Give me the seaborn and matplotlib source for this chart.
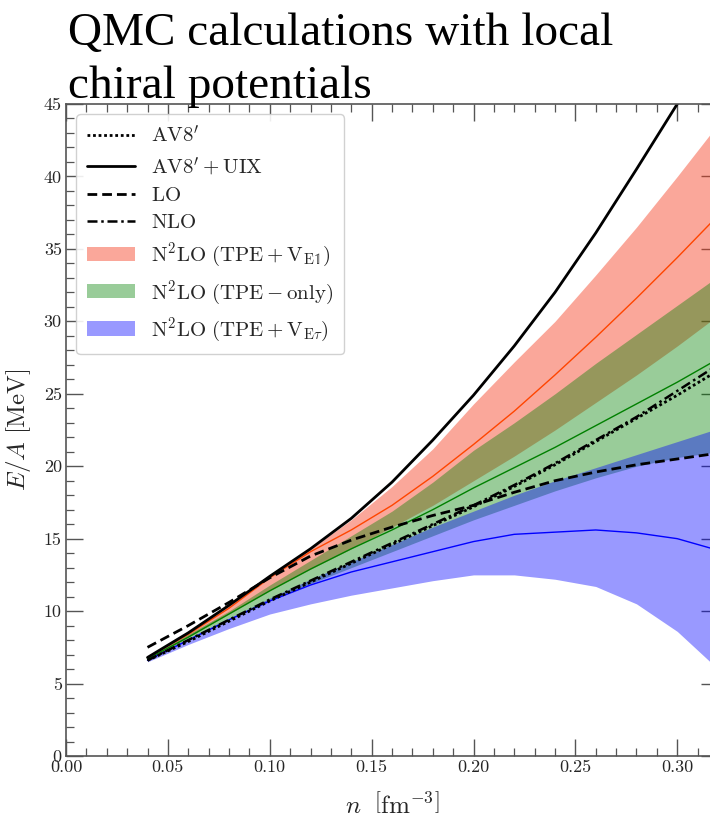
import matplotlib
matplotlib.use("Agg")
import matplotlib.pyplot as plt
from matplotlib.lines import Line2D
from matplotlib.patches import Patch
from matplotlib.ticker import MultipleLocator
import numpy as np
import pandas as pd
import seaborn as sns

# Neutron-matter energy per particle vs density
density = [0.04, 0.06, 0.08, 0.10, 0.12, 0.14, 0.16, 0.18, 0.20,
           0.22, 0.24, 0.26, 0.28, 0.30, 0.32]

av8p = [6.6, 7.9, 9.3, 10.7, 12.0, 13.3, 14.6, 15.9, 17.2,
        18.6, 20.1, 21.7, 23.3, 24.9, 26.6]
av8p_uix = [6.8, 8.5, 10.4, 12.4, 14.3, 16.4, 18.9, 21.8, 24.9,
            28.3, 32.0, 36.1, 40.5, 45.0, 49.8]
lo = [7.5, 9.0, 10.6, 12.3, 13.8, 14.9, 15.8, 16.6, 17.3,
      18.2, 19.0, 19.6, 20.1, 20.5, 20.9]
nlo = [6.6, 8.0, 9.4, 10.8, 12.1, 13.4, 14.7, 16.0, 17.3,
       18.7, 20.2, 21.8, 23.4, 25.2, 27.0]

# N2LO (TPE + V_E1): central value and band
e1_mid = [6.8, 8.4, 10.2, 12.3, 14.1, 15.6, 17.3, 19.3, 21.5,
          23.8, 26.3, 28.9, 31.6, 34.4, 37.3]
e1_hi = [6.9, 8.6, 10.5, 12.5, 14.3, 16.3, 18.6, 21.2, 24.3,
         27.2, 30.0, 33.2, 36.5, 40.0, 43.6]
e1_lo = [6.6, 8.2, 9.8, 11.4, 12.9, 14.3, 15.8, 17.3, 19.0,
         20.7, 22.5, 24.4, 26.3, 28.3, 30.4]

# N2LO (TPE-only)
tpe_mid = [6.7, 8.2, 9.8, 11.4, 12.9, 14.3, 15.6, 17.0, 18.5,
           19.9, 21.3, 22.8, 24.3, 25.8, 27.4]
tpe_hi = [6.8, 8.4, 10.0, 11.8, 13.5, 15.2, 16.9, 18.9, 21.1,
          23.0, 25.0, 27.1, 29.1, 31.1, 33.1]
tpe_lo = [6.6, 8.0, 9.4, 10.7, 11.9, 13.0, 14.1, 15.2, 16.3,
          17.3, 18.3, 19.2, 20.0, 20.6, 21.0]

# N2LO (TPE + V_Etau)
et_mid = [6.6, 8.0, 9.4, 10.7, 11.8, 12.7, 13.4, 14.1, 14.8,
          15.3, 15.45, 15.6, 15.4, 15.0, 14.2]
et_hi = [6.7, 8.1, 9.5, 10.9, 12.2, 13.4, 14.6, 15.8, 16.9,
         18.0, 19.0, 19.9, 20.8, 21.7, 22.6]
et_lo = [6.5, 7.7, 8.8, 9.8, 10.5, 11.1, 11.6, 12.1, 12.5,
         12.5, 12.2, 11.7, 10.5, 8.6, 6.0]

x_ticks = [0.00, 0.05, 0.10, 0.15, 0.20, 0.25, 0.30]
y_ticks = [0, 5, 10, 15, 20, 25, 30, 35, 40, 45]

df = pd.DataFrame({"n": density, "av8p": av8p, "av8p_uix": av8p_uix,
                   "lo": lo, "nlo": nlo, "e1": e1_mid, "tpe": tpe_mid,
                   "et": et_mid})

sns.set_style("ticks")
plt.rcParams["font.family"] = ["cmr10", "DejaVu Serif"]
plt.rcParams["mathtext.fontset"] = "cm"
plt.rcParams["axes.formatter.use_mathtext"] = True
plt.rcParams["axes.unicode_minus"] = False

fig = plt.figure(figsize=(7.10, 8.19), dpi=100)
ax = fig.add_axes([66 / 710, 63 / 819, 652 / 710, 652 / 819])

RED_FILL = (0.96, 0.24, 0.12)
GREEN = (0.0, 0.5, 0.0)
BLUE = (0.0, 0.0, 1.0)

ax.fill_between(density, e1_lo, e1_hi, color=RED_FILL, alpha=0.45, lw=0)
ax.fill_between(density, tpe_lo, tpe_hi, color=GREEN, alpha=0.4, lw=0)
ax.fill_between(density, et_lo, et_hi, color=BLUE, alpha=0.4, lw=0)

sns.lineplot(data=df, x="n", y="e1", ax=ax, color="orangered", lw=1.0)
sns.lineplot(data=df, x="n", y="tpe", ax=ax, color=GREEN, lw=1.0)
sns.lineplot(data=df, x="n", y="et", ax=ax, color=BLUE, lw=1.0)

sns.lineplot(data=df, x="n", y="av8p_uix", ax=ax, color="black", lw=2.0)
sns.lineplot(data=df, x="n", y="lo", ax=ax, color="black", lw=2.0,
             linestyle=(0, (3.5, 1.8)))
sns.lineplot(data=df, x="n", y="nlo", ax=ax, color="black", lw=1.8,
             linestyle=(0, (4, 1.5, 1, 1.5)))
sns.lineplot(data=df, x="n", y="av8p", ax=ax, color="black", lw=2.0,
             linestyle=(0, (1, 1)))

ax.set_xlim(0, 0.32)
ax.set_ylim(0, 45)
ax.set_xticks(x_ticks)
ax.set_yticks(y_ticks)
ax.set_xticklabels([f"{v:.2f}" for v in x_ticks])
ax.set_yticklabels([str(v) for v in y_ticks])
ax.xaxis.set_minor_locator(MultipleLocator(0.01))
ax.yaxis.set_minor_locator(MultipleLocator(1))
ax.tick_params(which="both", direction="in", top=True, right=True,
               color="#555555", labelsize=13, pad=3)
ax.tick_params(which="major", length=12, width=1.0)
ax.tick_params(which="minor", length=5.5, width=0.9)
for sp in ax.spines.values():
    sp.set_color("#555555")
    sp.set_linewidth(1.2)

ax.set_xlabel(r"$n\ \ \left[\mathrm{fm}^{-3}\right]$", fontsize=18,
              labelpad=12)
ax.set_ylabel(r"$E/A\ [\mathrm{MeV}]$", fontsize=18, labelpad=8)

handles = [
    Line2D([], [], color="black", lw=2.0, linestyle=(0, (1, 1))),
    Line2D([], [], color="black", lw=2.0),
    Line2D([], [], color="black", lw=2.0, linestyle=(0, (3.5, 1.8))),
    Line2D([], [], color="black", lw=1.8, linestyle=(0, (4, 1.5, 1, 1.5))),
    Patch(facecolor=RED_FILL, alpha=0.45, edgecolor="none"),
    Patch(facecolor=GREEN, alpha=0.4, edgecolor="none"),
    Patch(facecolor=BLUE, alpha=0.4, edgecolor="none"),
]
labels = [
    r"$\mathrm{AV8}^{\prime}$",
    r"$\mathrm{AV8}^{\prime} + \mathrm{UIX}$",
    r"$\mathrm{LO}$",
    r"$\mathrm{NLO}$",
    r"$\mathrm{N^2LO\ (TPE + V_{E\mathbb{1}})}$",
    r"$\mathrm{N^2LO\ (TPE - only)}$",
    r"$\mathrm{N^2LO\ (TPE + V_{E\tau})}$",
]
leg = ax.legend(handles, labels, loc="upper left", fontsize=15,
                frameon=True, fancybox=True, framealpha=0.9,
                edgecolor="#cccccc", handlelength=2.3, handletextpad=0.8,
                labelspacing=0.42, borderpad=0.5)

title_font = dict(family=["Liberation Serif", "DejaVu Serif"], fontsize=34,
                  color="black", ha="left", va="baseline")
fig.text(68 / 710, 1 - 45 / 819, "QMC calculations with local", **title_font)
fig.text(68 / 710, 1 - 98 / 819, "chiral potentials", **title_font)

fig.savefig("out.png", dpi=100)
